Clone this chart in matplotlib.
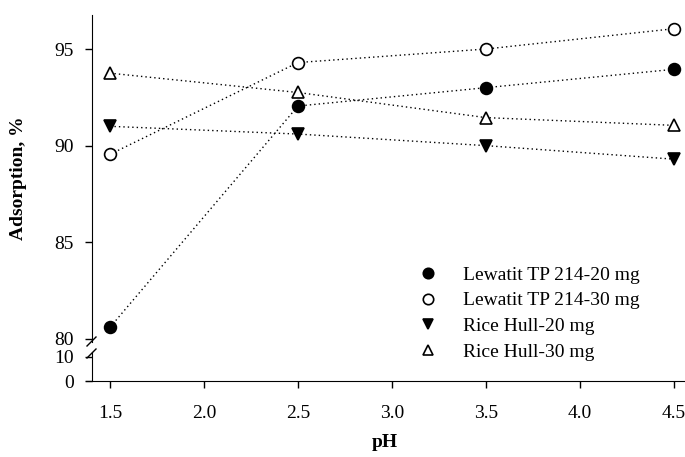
import matplotlib
matplotlib.use('Agg')
import matplotlib.pyplot as plt
from matplotlib.lines import Line2D

ph = [1.5, 2.5, 3.5, 4.5]
lewatit_20 = [80.6, 92.05, 93.0, 93.95]
lewatit_30 = [89.55, 94.3, 95.0, 96.05]
rice_20 = [91.0, 90.6, 90.0, 89.3]
rice_30 = [93.75, 92.75, 91.45, 91.05]

labels = ['Lewatit TP 214-20 mg', 'Lewatit TP 214-30 mg', 'Rice Hull-20 mg', 'Rice Hull-30 mg']
x_ticks = [1.5, 2.0, 2.5, 3.0, 3.5, 4.0, 4.5]
y_ticks_top = [80, 85, 90, 95]
y_ticks_bottom = [0, 10]

plt.rcParams['font.family'] = ['Liberation Serif', 'DejaVu Serif']
plt.rcParams['font.size'] = 14

W, H = 685, 457
fig = plt.figure(figsize=(W / 100, H / 100), dpi=100)

x0 = 86
x_spine = 92
x1 = 684
ax_top = fig.add_axes([x0 / W, (H - 342) / H, (x1 - x0) / W, 327 / H])
ax_bot = fig.add_axes([x0 / W, (H - 381) / H, (x1 - x0) / W, 29 / H])

# x scale: 1.5 at px 110, 4.5 at px 674
ppu = (674 - 110) / 3.0
xmin = 1.5 - (110 - x0) / ppu
xmax = 4.5 + (x1 - 674) / ppu
x_left_spine = 1.5 - (110 - x_spine) / ppu

styles = [
    dict(marker='o', mfc='black', mec='black'),
    dict(marker='o', mfc='white', mec='black'),
    dict(marker='v', mfc='black', mec='black'),
    dict(marker='^', mfc='white', mec='black'),
]
series = [lewatit_20, lewatit_30, rice_20, rice_30]

for vals, st in zip(series, styles):
    ax_top.plot(ph, vals, linestyle=(0, (1, 2.2)), color='black', lw=1.0,
                markersize=8.5, mew=1.2, clip_on=False, **st)

for ax in (ax_top, ax_bot):
    ax.set_xlim(xmin, xmax)
    ax.spines['top'].set_visible(False)
    ax.spines['right'].set_visible(False)
    ax.spines['left'].set_position(('data', x_left_spine))
    ax.tick_params(direction='out', length=5, width=1, labelsize=14)
    ax.tick_params(axis='y', pad=8)

ax_top.set_ylim(79.84, 96.76)
ax_top.set_yticks(y_ticks_top)
ax_top.spines['bottom'].set_visible(False)
ax_top.tick_params(axis='x', bottom=False, labelbottom=False)
ax_top.set_ylabel('Adsorption, %', fontweight='bold', fontsize=14, labelpad=20)

ax_bot.set_ylim(0, 12)
ax_bot.set_yticks(y_ticks_bottom)
ax_bot.set_xticks(x_ticks)
ax_bot.set_xticklabels(['%.1f' % v for v in x_ticks])
ax_bot.tick_params(axis='x', pad=12)
ax_bot.set_xlabel('pH', fontweight='bold', fontsize=14, labelpad=9)

# break marks on the y axis
bx = x_spine / W
fig.add_artist(Line2D([bx - 5 / W, bx + 4 / W], [(H - 346) / H, (H - 337) / H],
                      color='black', lw=1))
fig.add_artist(Line2D([bx - 5 / W, bx + 4 / W], [(H - 358) / H, (H - 349) / H],
                      color='black', lw=1))

handles = [Line2D([], [], linestyle='none', markersize=7.5, mew=1.2, **st) for st in styles]
fig.legend(handles, labels, loc='upper left', bbox_to_anchor=(418 / W, (H - 266) / H),
           frameon=False, fontsize=14, handlelength=1.0, handletextpad=1.3,
           labelspacing=0.42, borderaxespad=0, borderpad=0)

fig.savefig('out.png', dpi=100)
